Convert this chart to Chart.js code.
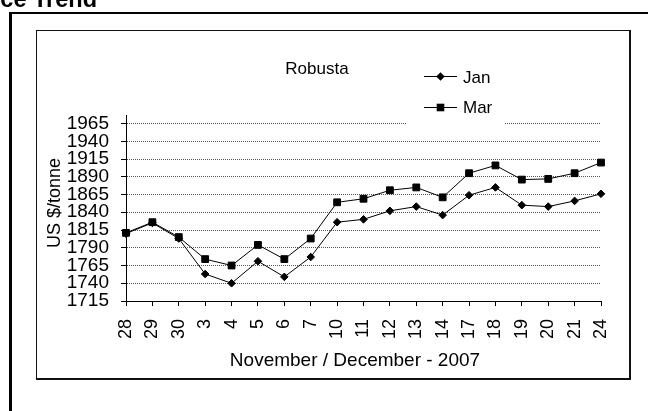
<!DOCTYPE html>
<html><head><meta charset="utf-8">
<script src="https://cdn.jsdelivr.net/npm/chart.js@4.4.1/dist/chart.umd.min.js"></script>
<style>html,body{margin:0;padding:0;background:#fff;overflow:hidden;} canvas{display:block;}</style>
</head><body>
<canvas id="c" width="648" height="411"></canvas>
<script>
const categories = ['28','29','30','3','4','5','6','7','10','11','12','13','14','17','18','19','20','21','24'];
const janValues = [1810, 1825, 1803, 1753, 1740, 1771, 1749, 1777, 1826, 1830, 1842, 1848, 1836, 1864, 1875, 1850, 1848, 1856, 1866];
const marValues = [1811, 1826, 1805, 1774, 1765, 1794, 1774, 1803, 1854, 1859, 1871, 1875, 1861, 1895, 1906, 1886, 1887, 1895, 1910];
const yTickValues = [1715, 1740, 1765, 1790, 1815, 1840, 1865, 1890, 1915, 1940, 1965];
const seriesNames = ['Jan', 'Mar'];
const chartTitle = 'Robusta';
const pageTitle = 'Price Trend';
const xAxisTitle = 'November / December - 2007';
const yAxisTitle = 'US $/tonne';

const FONT = 'Arial, "Liberation Sans", sans-serif';

const decor = {
  id: 'decor',
  beforeDraw(chart) {
    const c = chart.ctx;
    c.save();
    c.fillStyle = '#fff';
    c.fillRect(0, 0, chart.width, chart.height);
    c.fillStyle = '#000';
    // outer frame
    c.fillRect(9, 12, 3, 420);
    c.fillRect(9, 12, 660, 2);
    // inner frame
    c.fillStyle = '#111';
    c.fillRect(36, 30, 594, 1);
    c.fillRect(36, 30, 1, 349);
    c.fillRect(629, 30, 2, 350);
    c.fillRect(36, 378, 595, 2);
    // page title (cut off at the top-left)
    c.fillStyle = '#000';
    c.font = 'bold 23.5px ' + FONT;
    c.textAlign = 'left';
    c.textBaseline = 'alphabetic';
    c.fillText(pageTitle, -31, 7);
    c.restore();
  },
  afterDraw(chart) {
    const c = chart.ctx;
    c.save();
    // legend background hides the gridline behind it
    c.fillStyle = '#fff';
    c.fillRect(407, 45, 98, 83);
    c.fillStyle = '#000';
    c.strokeStyle = '#000';
    c.lineWidth = 1;
    const lx0 = 424, lx1 = 457, mx = 440.5;
    const rows = [76.5, 107.5];
    // Jan
    c.beginPath(); c.moveTo(lx0, rows[0]); c.lineTo(lx1, rows[0]); c.stroke();
    c.beginPath();
    c.moveTo(mx, rows[0] - 4.3); c.lineTo(mx + 4.3, rows[0]); c.lineTo(mx, rows[0] + 4.3); c.lineTo(mx - 4.3, rows[0]); c.closePath();
    c.fill();
    // Mar
    c.beginPath(); c.moveTo(lx0, rows[1]); c.lineTo(lx1, rows[1]); c.stroke();
    c.fillRect(mx - 3.8, rows[1] - 3.8, 7.6, 7.6);
    c.font = '17px ' + FONT;
    c.textAlign = 'left';
    c.textBaseline = 'alphabetic';
    c.fillText(seriesNames[0], 463, 83);
    c.fillText(seriesNames[1], 463, 113);
    // chart title
    c.textAlign = 'center';
    c.fillText(chartTitle, 317, 74);
    // x axis title
    c.font = '19px ' + FONT;
    c.fillText(xAxisTitle, 355, 366);
    // y axis title
    c.font = '18px ' + FONT;
    c.translate(60, 203);
    c.rotate(-Math.PI / 2);
    c.fillText(yAxisTitle, 0, 0);
    c.restore();
  }
};

new Chart(document.getElementById('c'), {
  type: 'line',
  data: {
    labels: categories,
    datasets: [
      {
        label: seriesNames[0],
        data: janValues,
        borderColor: '#000',
        borderWidth: 1,
        pointStyle: 'rectRot',
        pointRadius: 3.8,
        pointBackgroundColor: '#000',
        pointBorderColor: '#000',
        pointBorderWidth: 1,
        tension: 0,
        fill: false,
        clip: false,
        order: 1
      },
      {
        label: seriesNames[1],
        data: marValues,
        borderColor: '#000',
        borderWidth: 1,
        pointStyle: 'rect',
        pointRadius: 4.8,
        pointBackgroundColor: '#000',
        pointBorderColor: '#000',
        pointBorderWidth: 1,
        tension: 0,
        fill: false,
        clip: false,
        order: 0
      }
    ]
  },
  options: {
    responsive: false,
    animation: false,
    devicePixelRatio: 1,
    layout: { padding: { left: 0, right: 47, top: 115, bottom: 0 } },
    plugins: {
      legend: { display: false },
      tooltip: { enabled: false },
      title: { display: false }
    },
    scales: {
      x: {
        type: 'category',
        offset: false,
        afterFit(scale) { scale.height = 110; },
        grid: {
          drawOnChartArea: false,
          drawTicks: true,
          tickLength: 5,
          tickColor: '#000',
          color: '#000'
        },
        border: { color: '#000', width: 1 },
        ticks: {
          autoSkip: false,
          maxRotation: 90,
          minRotation: 90,
          padding: 13,
          color: '#000',
          font: { family: FONT, size: 18 }
        }
      },
      y: {
        type: 'linear',
        min: 1715,
        max: 1977,
        afterFit(scale) { scale.width = 126; },
        afterBuildTicks(scale) { scale.ticks = yTickValues.map(v => ({ value: v })); },
        grid: {
          drawOnChartArea: true,
          drawTicks: true,
          tickLength: 5,
          tickColor: '#000',
          tickBorderDash: [],
          lineWidth: 1,
          color: (ctx) => (ctx.tick && ctx.tick.value === yTickValues[0]) ? 'rgba(0,0,0,0)' : '#555'
        },
        border: { color: '#000', width: 1, dash: [1, 1] },
        ticks: {
          autoSkip: false,
          padding: 12,
          color: '#000',
          font: { family: FONT, size: 19 },
          callback: (v) => String(v)
        }
      }
    }
  },
  plugins: [decor]
});
</script>
</body></html>
